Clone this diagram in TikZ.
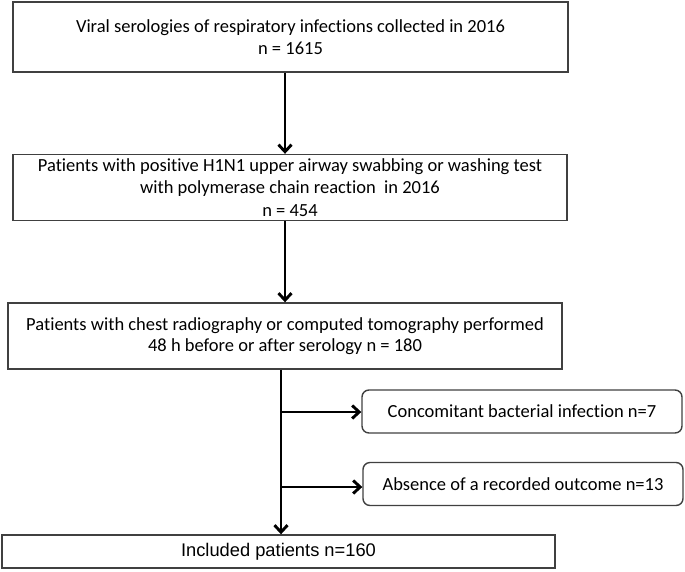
\documentclass[tikz,border=0pt]{standalone}
\usepackage{fontspec}
\setmainfont{Carlito}[Ligatures=NoCommon]
\newfontfamily\arialfont{Liberation Sans}
\usetikzlibrary{arrows.meta}
\begin{document}
\begin{tikzpicture}[x=1pt,y=-1pt,
  box/.style={draw=black!75,line width=1.4pt,inner sep=0pt,align=center,
    font=\fontsize{18.5}{21.5}\selectfont},
  rbox/.style={box,rounded corners=7pt},
  arr/.style={line width=2.9pt,-{Straight Barb[length=7pt,width=13pt,line width=2.9pt]}},
  ln/.style={line width=2.9pt}]
\useasboundingbox (0,0) rectangle (685,571);
\node[box,minimum width=555pt,minimum height=70pt] (b1) at (290.5,37)
  {Viral serologies of respiratory infections collected in 2016\\ n = 1615};
\node[box,minimum width=554pt,minimum height=66pt,
  font=\fontsize{18.5}{22.5}\selectfont] (b2) at (290,187.5)
  {Patients with positive H1N1 upper airway swabbing or washing test\\ with polymerase chain reaction\ \ in 2016\\ n = 454};
\node[box,minimum width=554pt,minimum height=66pt] (b3) at (285,336)
  {Patients with chest radiography or computed tomography performed\\ 48 h before or after serology n = 180};
\node[rbox,minimum width=320pt,minimum height=43pt] (b4) at (522,411.5)
  {Concomitant bacterial infection n=7};
\node[rbox,minimum width=320pt,minimum height=43pt] (b5) at (523,484)
  {Absence of a recorded outcome n=13};
\node[box,minimum width=553pt,minimum height=33pt,font=\arialfont\fontsize{18.3}{20}\selectfont] (b6) at (278.5,551.5)
  {Included patients n=160};
\draw[arr] (b1.south -| 285,0) -- (b2.north -| 285,0);
\draw[arr] (b2.south -| 285,0) -- (b3.north -| 285,0);
\coordinate (j1) at (281,412);
\coordinate (j2) at (281,487);
\draw[ln] (b3.south -| j1) -- (j2);
\draw[arr] (j2) -- (b6.north -| j1);
\draw[arr] (j1) -- (b4.west |- j1);
\draw[arr] (j2) -- (b5.west |- j2);
\end{tikzpicture}
\end{document}
